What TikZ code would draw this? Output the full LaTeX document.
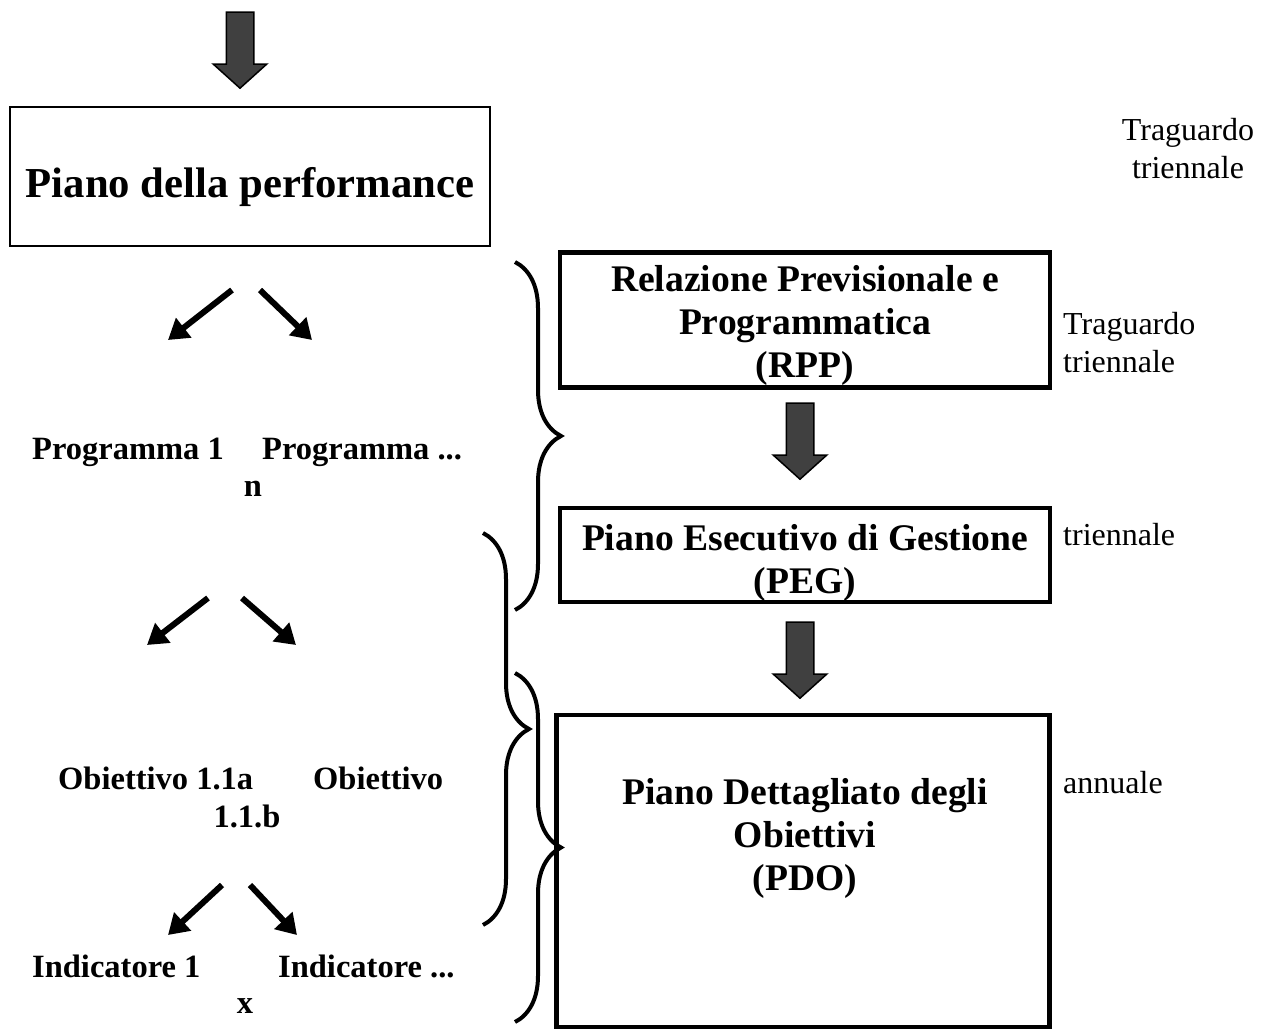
\documentclass[tikz,border=0pt]{standalone}
\usepackage{fontspec}
\setmainfont{Liberation Serif}
\usetikzlibrary{shapes.arrows, arrows.meta, positioning, decorations.pathreplacing}

\begin{document}
\begin{tikzpicture}[x=1pt, y=-1pt]
    \tikzstyle{mainbox} = [rectangle, draw=black, line width=2pt, minimum width=480pt, minimum height=139pt, inner sep=0pt]
    \tikzstyle{stagebox} = [rectangle, draw=black, line width=4.5pt, minimum width=490pt, inner sep=0pt]
    \tikzstyle{boxtext} = [inner sep=0pt, align=center, font=\fontsize{37.6}{43}\selectfont\bfseries]
    \tikzstyle{blockarrow} = [single arrow, draw=black, fill=black!75, line width=1.5pt, shape border rotate=270, minimum height=76pt, minimum width=52pt, single arrow head extend=13pt, single arrow tip angle=96, inner sep=13pt]
    \tikzstyle{level} = [inner sep=0pt, anchor=west, font=\fontsize{32.5}{38}\selectfont\bfseries]
    \tikzstyle{span} = [inner sep=0pt, anchor=west, align=left, font=\fontsize{32}{38}\selectfont]
    \tikzstyle{split} = [line width=6pt, -{Triangle[length=20pt, width=24pt]}]
    \tikzstyle{curly} = [line width=4pt, decorate, decoration={brace, amplitude=46pt}]

    \useasboundingbox (0,0) rectangle (1262,1029);

    % left column: performance plan and its tree
    \node (top) [blockarrow] at (240,44) {};
    \node (perf) [mainbox] at (250,176) {};
    \node (perftext) [boxtext, font=\fontsize{42.7}{50}\selectfont\bfseries] at ([yshift=-11pt]perf.center) {Piano della performance};

    \node (prog1) [level] at (32,452) {Programma 1};
    \node (progn) [level] at (262,452) {Programma ...};
    \node (progx) [level, anchor=center] at (253,489) {n};

    \node (obj1) [level] at (58,778) {Obiettivo 1.1a};
    \node (objn) [level] at (313,778) {Obiettivo};
    \node (objx) [level, anchor=center] at (247,816) {1.1.b};

    \node (ind1) [level] at (32,966) {Indicatore 1};
    \node (indn) [level] at (278,966) {Indicatore ...};
    \node (indx) [level, anchor=center] at (245,1006) {x};

    \coordinate (p1s) at (232,290); \coordinate (p1e) at (168,340);
    \coordinate (p2s) at (260,290); \coordinate (p2e) at (312,340);
    \coordinate (o1s) at (208,598); \coordinate (o1e) at (147,645);
    \coordinate (o2s) at (242,598); \coordinate (o2e) at (296,645);
    \coordinate (i1s) at (222,885); \coordinate (i1e) at (168,935);
    \coordinate (i2s) at (250,885); \coordinate (i2e) at (297,935);

    \draw[split] (p1s) -- (p1e);
    \draw[split] (p2s) -- (p2e);
    \draw[split] (o1s) -- (o1e);
    \draw[split] (o2s) -- (o2e);
    \draw[split] (i1s) -- (i1e);
    \draw[split] (i2s) -- (i2e);

    % right column: planning documents
    \node (rpp) [stagebox, minimum height=135pt] at (805,320) {};
    \node (rpptext) [boxtext] at ([yshift=-5pt]rpp.center) {Relazione Previsionale e\\Programmatica\\(RPP)};
    \node (down1) [blockarrow] at (800,435) {};
    \node (peg) [stagebox, minimum height=94pt] at (805,555) {};
    \node (pegtext) [boxtext] at ([yshift=-8pt]peg.center) {Piano Esecutivo di Gestione\\(PEG)};
    \node (down2) [blockarrow] at (800,654) {};
    \node (pdo) [stagebox, minimum width=493pt, minimum height=312pt] at (803,871) {};
    \node (pdotext) [boxtext] at (805,838) {Piano Dettagliato degli\\Obiettivi\\(PDO)};

    % horizons
    \node (goal0) [span, anchor=center, align=center] at (1188,149) {Traguardo\\triennale};
    \node (goal1) [span] at (1063,343) {Traguardo\\triennale};
    \node (goal2) [span] at (1063,535) {triennale};
    \node (goal3) [span] at (1063,783) {annuale};

    % braces
    \draw[curly] (515,262) -- (515,610);
    \draw[curly] (483,533) -- (483,925);
    \draw[curly] (515,673) -- (515,1022);
\end{tikzpicture}
\end{document}
